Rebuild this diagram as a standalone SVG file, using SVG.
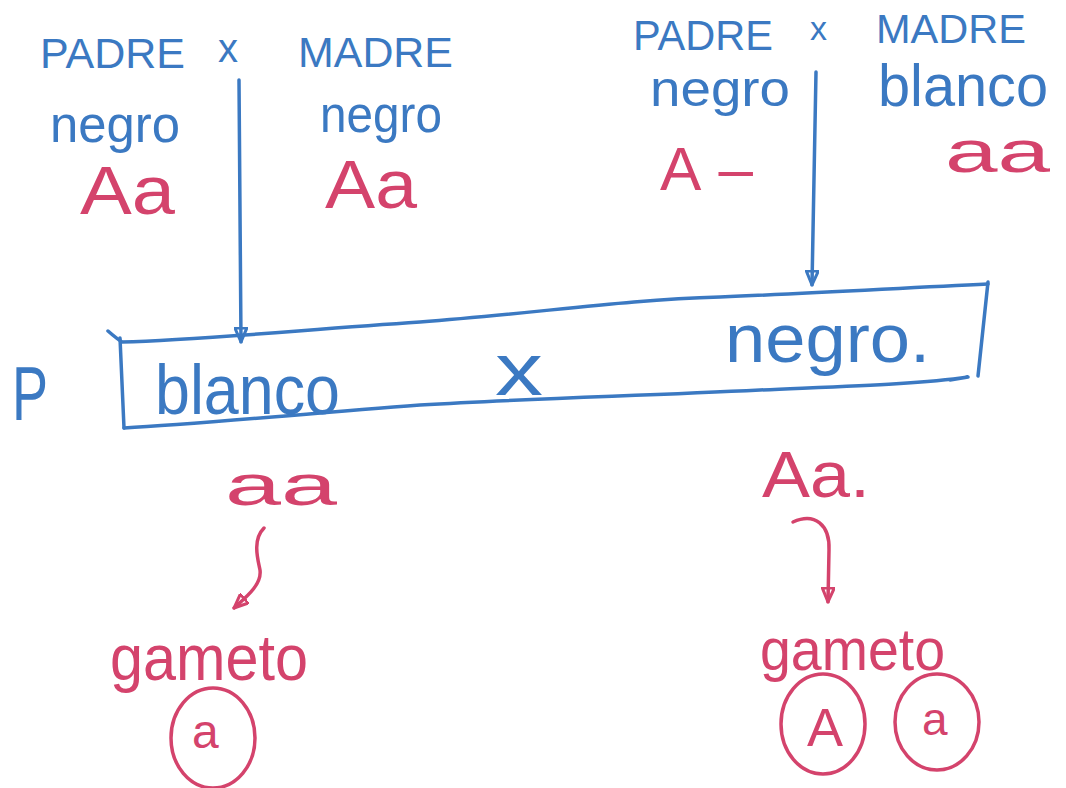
<svg xmlns="http://www.w3.org/2000/svg" width="1066" height="788" viewBox="0 0 1066 788">
  <style>
    text { font-family: "Liberation Sans", Arial, sans-serif; }
    .b { fill: #3b79c2; }
    .r { fill: #d4436c; }
    .lb { fill: none; stroke: #3b79c2; stroke-width: 3.5; stroke-linecap: round; stroke-linejoin: round; }
    .lr { fill: none; stroke: #d4436c; stroke-width: 3.5; stroke-linecap: round; stroke-linejoin: round; }
  </style>
  <defs>
    <marker id="headBlue" viewBox="0 0 16 14" refX="15" refY="7" markerWidth="16" markerHeight="14" markerUnits="userSpaceOnUse" orient="auto">
      <path d="M1,1 L15,7 L1,13 Z" fill="none" stroke="#3b79c2" stroke-width="3" stroke-linejoin="round"/>
    </marker>
    <marker id="headRed" viewBox="0 0 16 14" refX="15" refY="7" markerWidth="16" markerHeight="14" markerUnits="userSpaceOnUse" orient="auto">
      <path d="M1,1 L15,7 L1,13 Z" fill="none" stroke="#d4436c" stroke-width="3" stroke-linejoin="round"/>
    </marker>
  </defs>

  <rect width="1066" height="788" fill="#ffffff"/>

  <!-- first cross: black father x black mother -->
  <g id="cross-left">
    <text class="b" x="40" y="68" font-size="42" textLength="145" lengthAdjust="spacingAndGlyphs">PADRE</text>
    <text class="b" x="218" y="62" font-size="40">x</text>
    <text class="b" x="298" y="67" font-size="42" textLength="155" lengthAdjust="spacingAndGlyphs">MADRE</text>
    <text class="b" x="50" y="142" font-size="52" textLength="130" lengthAdjust="spacingAndGlyphs">negro</text>
    <text class="r" x="80" y="214" font-size="68" textLength="95" lengthAdjust="spacingAndGlyphs">Aa</text>
    <text class="b" x="320" y="132" font-size="52" textLength="122" lengthAdjust="spacingAndGlyphs">negro</text>
    <text class="r" x="325" y="208" font-size="68" textLength="92" lengthAdjust="spacingAndGlyphs">Aa</text>
  </g>

  <!-- second cross: black father x white mother -->
  <g id="cross-right">
    <text class="b" x="633" y="50" font-size="42" textLength="140" lengthAdjust="spacingAndGlyphs">PADRE</text>
    <text class="b" x="810" y="40" font-size="34">x</text>
    <text class="b" x="876" y="43" font-size="40" textLength="150" lengthAdjust="spacingAndGlyphs">MADRE</text>
    <text class="b" x="650" y="106" font-size="50" textLength="140" lengthAdjust="spacingAndGlyphs">negro</text>
    <text class="r" x="660" y="190" font-size="62" textLength="93" lengthAdjust="spacing">A–</text>
    <text class="b" x="878" y="106" font-size="60" textLength="170" lengthAdjust="spacingAndGlyphs">blanco</text>
    <text class="r" x="945" y="172" font-size="60" textLength="105" lengthAdjust="spacingAndGlyphs">aa</text>
  </g>

  <!-- parental generation box -->
  <g id="parental">
    <text class="b" x="12" y="420" font-size="76" textLength="36" lengthAdjust="spacingAndGlyphs">P</text>
    <path class="lb" d="M108,331 Q116,338 122,342 C200,340 300,330 420,322 C540,313 620,300 720,297 C820,293 900,288 988,284"/>
    <path class="lb" d="M120,338 L124,428"/>
    <path class="lb" d="M988,282 L978,376"/>
    <path class="lb" d="M124,428 C200,424 300,414 420,405 C540,398 640,396 760,390 C850,386 920,384 968,377 L950,380"/>
    <text class="b" x="155" y="414" font-size="70" textLength="185" lengthAdjust="spacingAndGlyphs">blanco</text>
    <text class="b" x="495" y="395" font-size="74" textLength="48" lengthAdjust="spacingAndGlyphs">x</text>
    <text class="b" x="725" y="362" font-size="68" textLength="205" lengthAdjust="spacingAndGlyphs">negro.</text>
  </g>

  <!-- gametes of the white parent -->
  <g id="gametes-left">
    <text class="r" x="225" y="505" font-size="58" textLength="112" lengthAdjust="spacingAndGlyphs">aa</text>
    <text class="r" x="110" y="680" font-size="64" textLength="198" lengthAdjust="spacingAndGlyphs">gameto</text>
    <ellipse class="lr" cx="213" cy="738" rx="42" ry="50"/>
    <text class="r" x="192" y="748" font-size="48">a</text>
  </g>

  <!-- gametes of the black parent -->
  <g id="gametes-right">
    <text class="r" x="762" y="497" font-size="64" textLength="108" lengthAdjust="spacingAndGlyphs">Aa.</text>
    <text class="r" x="760" y="670" font-size="60" textLength="185" lengthAdjust="spacingAndGlyphs">gameto</text>
    <ellipse class="lr" cx="823" cy="724" rx="42" ry="50"/>
    <text class="r" x="807" y="746" font-size="54">A</text>
    <ellipse class="lr" cx="937" cy="722" rx="42" ry="48"/>
    <text class="r" x="922" y="735" font-size="46">a</text>
  </g>

  <!-- connectors -->
  <g id="connectors">
    <path class="lb" d="M239,80 L241,342" marker-end="url(#headBlue)"/>
    <path class="lb" d="M816,72 L812,285" marker-end="url(#headBlue)"/>
    <path class="lr" d="M264,528 C252,540 258,560 260,570 C262,585 245,598 234,608" marker-end="url(#headRed)"/>
    <path class="lr" d="M793,522 C815,512 830,525 829,550 L828,602" marker-end="url(#headRed)"/>
  </g>
</svg>
